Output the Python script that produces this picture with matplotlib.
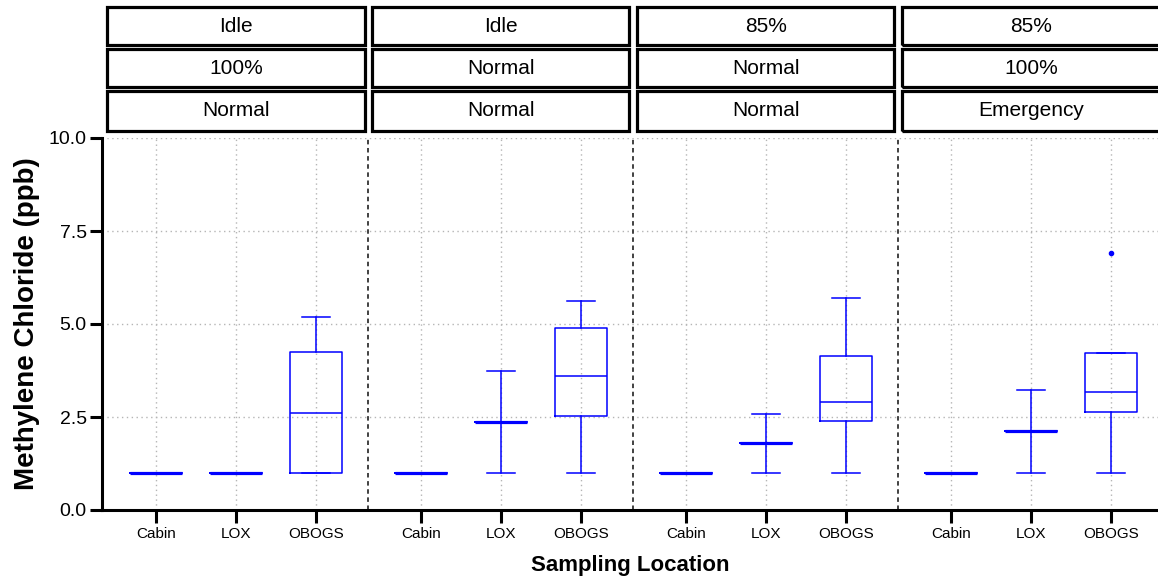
import matplotlib
matplotlib.use("Agg")
import matplotlib.pyplot as plt
from matplotlib.patches import Rectangle

plt.rcParams['font.family'] = ['Liberation Sans', 'DejaVu Sans']

# --- Facet labels (three nested strip rows) ---
locations = ['Cabin', 'LOX', 'OBOGS']
throttle = ['Idle', 'Idle', '85%', '85%']
concentration = ['100%', 'Normal', 'Normal', '100%']
mode = ['Normal', 'Normal', 'Normal', 'Emergency']

# --- Box statistics per panel, in location order (ppb) ---
whis_lo = [[1.0, 1.0, 1.0], [1.0, 1.0, 1.0], [1.0, 1.0, 1.0], [1.0, 1.0, 1.0]]
q1 = [[1.0, 1.0, 1.0], [1.0, 2.36, 2.52], [1.0, 1.80, 2.38], [1.0, 2.12, 2.63]]
median = [[1.0, 1.0, 2.60], [1.0, 2.36, 3.60], [1.0, 1.80, 2.91], [1.0, 2.12, 3.16]]
q3 = [[1.0, 1.0, 4.24], [1.0, 2.36, 4.90], [1.0, 1.80, 4.14], [1.0, 2.12, 4.22]]
whis_hi = [[1.0, 1.0, 5.18], [1.0, 3.75, 5.63], [1.0, 2.59, 5.70], [1.0, 3.23, 4.22]]
outliers = [[[], [], []], [[], [], []], [[], [], []], [[], [], [6.90]]]

y_ticks = [0.0, 2.5, 5.0, 7.5, 10.0]

BLUE = '#0000FF'
PANEL_STEP = 3.3125  # distance between panels in category units

fig = plt.figure(figsize=(11.58, 5.8), dpi=100)
W, H = 1158, 580
ax = fig.add_axes([102 / W, (H - 510) / H, (1158 - 102) / W, (510 - 138) / H])

stats, positions, tick_labels = [], [], []
for p in range(len(throttle)):
    for j, loc in enumerate(locations):
        stats.append(dict(whislo=whis_lo[p][j], q1=q1[p][j], med=median[p][j],
                          q3=q3[p][j], whishi=whis_hi[p][j], fliers=outliers[p][j]))
        positions.append(p * PANEL_STEP + j)
        tick_labels.append(loc)

art = ax.bxp(stats, positions=positions, widths=0.65, capwidths=0.34,
             patch_artist=False, manage_ticks=False,
             boxprops=dict(color=BLUE, lw=1.1),
             whiskerprops=dict(color=BLUE, lw=1.1),
             capprops=dict(color=BLUE, lw=1.1),
             medianprops=dict(color=BLUE, lw=1.1),
             flierprops=dict(marker='o', markersize=3, markerfacecolor=BLUE,
                             markeredgecolor=BLUE))

# collapsed boxes show up as a heavier bar
for s, med_line in zip(stats, art['medians']):
    if s['q1'] == s['q3']:
        med_line.set_linewidth(2.3)

# panel separators
for p in range(1, len(throttle)):
    ax.axvline(p * PANEL_STEP - (PANEL_STEP - 2) / 2, color='#333333',
               ls=(0, (2.5, 2)), lw=1.3, zorder=1)

ax.set_xlim(-0.675, 12.525)
ax.set_ylim(0, 10)
ax.set_yticks(y_ticks)
ax.set_yticklabels([f'{v:.1f}' for v in y_ticks])
ax.set_xticks(positions)
ax.set_xticklabels(tick_labels)

ax.grid(True, color='#b5b5b5', ls=(0, (1, 2.5)), lw=1.0, zorder=0)
ax.set_axisbelow(True)

for side in ['top', 'right']:
    ax.spines[side].set_visible(False)
for side in ['left', 'bottom']:
    ax.spines[side].set_linewidth(2.2)
ax.tick_params(axis='both', width=2.2, length=9, color='black')
ax.tick_params(axis='y', labelsize=14, pad=2)
ax.tick_params(axis='x', labelsize=11, pad=3)

ax.set_ylabel('Methylene Chloride (ppb)', fontsize=20, fontweight='bold', labelpad=6)
ax.set_xlabel('Sampling Location', fontsize=16, fontweight='bold', labelpad=10)

# nested strip boxes above each panel
rows = [(throttle, 465, 503), (concentration, 423, 461), (mode, 379, 419)]
strip_w = 257 / 80
trans = ax.get_xaxis_transform()
for labels, y0, y1 in rows:
    lo, hi = y0 / 372, y1 / 372
    for p, lab in enumerate(labels):
        cx = p * PANEL_STEP + 1
        ax.add_patch(Rectangle((cx - strip_w / 2, lo), strip_w, hi - lo,
                               transform=trans, fill=False, ec='black',
                               lw=2.3, clip_on=False))
        ax.text(cx, (lo + hi) / 2, lab, transform=trans, ha='center',
                va='center', fontsize=15, clip_on=False)

fig.savefig('out.png', dpi=100)
